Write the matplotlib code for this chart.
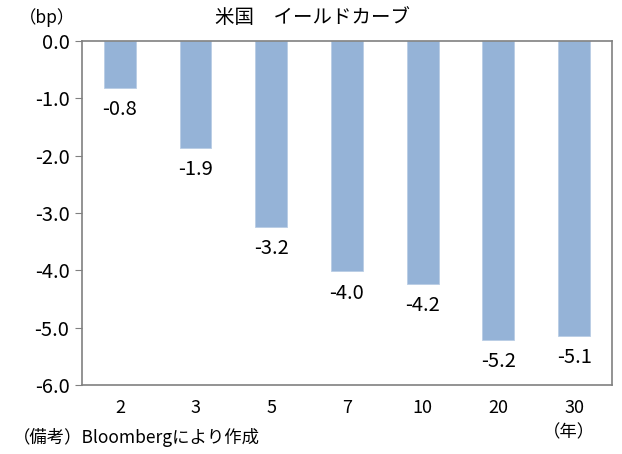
import matplotlib.pyplot as plt
import numpy as np

plt.rcParams['font.family'] = ['Noto Sans CJK JP', 'DejaVu Sans']

maturities = ["2", "3", "5", "7", "10", "20", "30"]
changes = [-0.82, -1.86, -3.24, -4.02, -4.24, -5.22, -5.14]
yticks = [0.0, -1.0, -2.0, -3.0, -4.0, -5.0, -6.0]

fig = plt.figure(figsize=(6.22, 4.54), dpi=100)
ax = fig.add_axes([0.1318, 0.152, 0.852, 0.758])

x = np.arange(len(maturities))
ax.bar(x, changes, width=0.42, color="#95b3d7", edgecolor="#b9cde5", linewidth=0.6)

# 値ラベル（棒の下）
for xi, v in zip(x, changes):
    ax.annotate(f"{v:.1f}", (xi, v), xytext=(0, -8), textcoords="offset points",
                ha="center", va="top", fontsize=14.5)

ax.set_xlim(-0.5, len(maturities) - 0.5)
ax.set_ylim(-6.0, 0.0)
ax.set_yticks(yticks)
ax.set_yticklabels([f"{t:.1f}" for t in yticks], fontsize=14.5)
ax.set_xticks(x)
ax.set_xticklabels(maturities, fontsize=13)
ax.tick_params(axis="x", length=0, pad=10)
ax.tick_params(axis="y", length=5, color="#808080", direction="out", pad=4)
for s in ax.spines.values():
    s.set_color("#808080")
    s.set_linewidth(1.2)

fig.text(0.075, 0.962, "（bp）", fontsize=12.5, ha="center", va="center")
fig.text(0.503, 0.962, "米国　イールドカーブ", fontsize=14, ha="center", va="center")
fig.text(0.915, 0.048, "（年）", fontsize=12.5, ha="center", va="center")
fig.text(0.02, 0.037, "（備考）Bloombergにより作成", fontsize=12.5, ha="left", va="center")

fig.savefig("out.png", dpi=100)
